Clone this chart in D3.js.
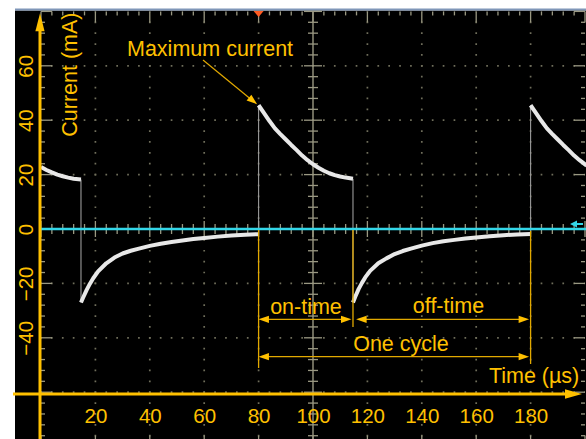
<!DOCTYPE html>
<html>
<head>
<meta charset="utf-8">
<script src="https://cdn.jsdelivr.net/npm/d3@7"></script>
<style>
html, body { margin: 0; padding: 0; background: #fff; }
svg { display: block; font-family: "Liberation Sans", Arial, sans-serif; }
</style>
</head>
<body>
<div id="scope"></div>
<script>
// current trace, split at the switching edges (time in µs, current in mA)
var onTime1 = [0, 2, 4, 6, 8, 10, 12, 14.7];
var onCurrent1 = [22.8, 21.7, 20.8, 20.0, 19.4, 18.9, 18.5, 18.2];

var offTime1 = [14.7, 15.5, 16.8, 18, 19.2, 21, 24, 27, 30, 33, 36, 40, 44, 48, 52, 56, 60, 65, 70, 75, 80];
var offCurrent1 = [-27, -25.2, -22.4, -20.1, -18.1, -15.6, -12.6, -10.5, -9.0, -8.0, -7.2, -6.2, -5.4, -4.8, -4.2, -3.7, -3.3, -2.8, -2.4, -2.1, -1.9];

var onTime2 = [80, 82, 84, 86, 88, 90, 92, 94, 96, 98, 100, 102, 104, 106, 108, 110, 112, 114.7];
var onCurrent2 = [45.5, 42.6, 39.7, 37.0, 34.9, 32.9, 30.9, 29.0, 27.0, 25.3, 23.8, 22.5, 21.4, 20.5, 19.8, 19.3, 18.9, 18.5];

var offTime2 = [114.7, 115.5, 116.8, 118, 119.2, 121, 124, 127, 130, 133, 136, 140, 144, 148, 152, 156, 160, 165, 170, 175, 180];
var offCurrent2 = [-27, -25.0, -22.0, -19.8, -17.8, -15.4, -12.6, -10.8, -9.2, -8.1, -7.2, -6.1, -5.2, -4.5, -4.0, -3.5, -3.1, -2.7, -2.3, -2.0, -1.8];

var onTime3 = [180, 182, 184, 186, 188, 190, 192, 194, 196, 198, 200.6];
var onCurrent3 = [45.5, 42.6, 39.7, 37.0, 34.9, 32.9, 30.9, 29.0, 27.0, 25.3, 23.3];

// second channel sits flat on zero
var ch2Time = [0, 200.6];
var ch2Current = [0, 0];

var timeTicks = [20, 40, 60, 80, 100, 120, 140, 160, 180];
var currentTicks = [60, 40, 20, 0, -20, -40];

// pulse start, pulse end, next pulse start
var cycleStart = 80, cycleSwitch = 114.7, cycleEnd = 180;
var peakCurrent = 45.5;

var width = 586, height = 439;
var orange = "#ffc000", gridColor = "#6f6e5b", axisGrey = "#9a9882";

var x = d3.scaleLinear().domain([0, 200]).range([41, 585]);
var y = d3.scaleLinear().domain([-80, 80]).range([446.6, 11.4]);

var svg = d3.select("#scope")
    .append("svg")
    .attr("width", width)
    .attr("height", height);

svg.append("rect")
    .attr("x", 0).attr("y", 0)
    .attr("width", width).attr("height", height)
    .attr("fill", "#fff");

// screen
svg.append("rect")
    .attr("x", 15).attr("y", 10.5)
    .attr("width", width - 15).attr("height", height - 10.5)
    .attr("fill", "#000");

svg.append("line")
    .attr("x1", 15).attr("x2", width)
    .attr("y1", 9.5).attr("y2", 9.5)
    .attr("stroke", "#7f96b8")
    .attr("stroke-width", 2);

//graticule
var grid = svg.append("g");
var divTime = d3.range(20, 200, 20).filter(function(t){ return t != 100; });
var divCurrent = d3.range(-60, 80, 20).filter(function(v){ return v != 0; });

grid.selectAll(".vdot")
    .data(divTime)
    .join("line")
    .attr("x1", function(d){ return x(d); })
    .attr("x2", function(d){ return x(d); })
    .attr("y1", y(80)).attr("y2", y(-80))
    .attr("stroke", gridColor)
    .attr("stroke-width", 1.7)
    .attr("stroke-dasharray", "1.7 9.18")
    .attr("stroke-dashoffset", 0.85);

grid.selectAll(".hdot")
    .data(divCurrent)
    .join("line")
    .attr("y1", function(d){ return y(d); })
    .attr("y2", function(d){ return y(d); })
    .attr("x1", x(0)).attr("x2", x(200))
    .attr("stroke", gridColor)
    .attr("stroke-width", 1.7)
    .attr("stroke-dasharray", "1.7 9.18")
    .attr("stroke-dashoffset", 0.85);

var minorTime = d3.range(0, 200.01, 4);
var minorCurrent = d3.range(-80, 80.01, 4);
function isMajorT(t){ return Math.abs(t % 20) < 0.01; }

// edge ticks
grid.selectAll(".ttop")
    .data(minorTime)
    .join("line")
    .attr("x1", function(d){ return x(d); })
    .attr("x2", function(d){ return x(d); })
    .attr("y1", y(80))
    .attr("y2", function(d){ return y(80) + (isMajorT(d) ? 11 : 4); })
    .attr("stroke", axisGrey).attr("stroke-width", 1.3);

grid.selectAll(".tbot")
    .data(minorTime)
    .join("line")
    .attr("x1", function(d){ return x(d); })
    .attr("x2", function(d){ return x(d); })
    .attr("y1", y(-80))
    .attr("y2", function(d){ return y(-80) - (isMajorT(d) ? 11 : 4); })
    .attr("stroke", axisGrey).attr("stroke-width", 1.3);

grid.selectAll(".tleft")
    .data(minorCurrent)
    .join("line")
    .attr("y1", function(d){ return y(d); })
    .attr("y2", function(d){ return y(d); })
    .attr("x1", x(0))
    .attr("x2", function(d){ return x(0) + (isMajorT(d) ? 11 : 4); })
    .attr("stroke", axisGrey).attr("stroke-width", 1.3);

grid.selectAll(".tright")
    .data(minorCurrent)
    .join("line")
    .attr("y1", function(d){ return y(d); })
    .attr("y2", function(d){ return y(d); })
    .attr("x1", x(200))
    .attr("x2", function(d){ return x(200) - (isMajorT(d) ? 11 : 4); })
    .attr("stroke", axisGrey).attr("stroke-width", 1.3);

// centre cross
grid.append("line")
    .attr("x1", x(100)).attr("x2", x(100))
    .attr("y1", y(80)).attr("y2", y(-80))
    .attr("stroke", axisGrey).attr("stroke-width", 1.4);

grid.append("line")
    .attr("x1", x(0)).attr("x2", x(200))
    .attr("y1", y(0)).attr("y2", y(0))
    .attr("stroke", axisGrey).attr("stroke-width", 1.4);

grid.selectAll(".cv")
    .data(minorCurrent)
    .join("line")
    .attr("y1", function(d){ return y(d); })
    .attr("y2", function(d){ return y(d); })
    .attr("x1", function(d){ return x(100) - (isMajorT(d) ? 9 : 5); })
    .attr("x2", function(d){ return x(100) + (isMajorT(d) ? 9 : 5); })
    .attr("stroke", axisGrey).attr("stroke-width", 1.3);

grid.selectAll(".ch")
    .data(minorTime)
    .join("line")
    .attr("x1", function(d){ return x(d); })
    .attr("x2", function(d){ return x(d); })
    .attr("y1", function(d){ return y(0) - (isMajorT(d) ? 8 : 5); })
    .attr("y2", function(d){ return y(0) + (isMajorT(d) ? 8 : 5); })
    .attr("stroke", axisGrey).attr("stroke-width", 1.3);

//traces
var segments = [
    {t: onTime1, i: onCurrent1},
    {t: offTime1, i: offCurrent1},
    {t: onTime2, i: onCurrent2},
    {t: offTime2, i: offCurrent2},
    {t: onTime3, i: onCurrent3}
];

var line = d3.line()
    .x(function(d){ return x(d[0]); })
    .y(function(d){ return y(d[1]); });

// switching edges, thin
var edges = [];
for (var k = 0; k < segments.length - 1; k++) {
    var a = segments[k], b = segments[k + 1];
    edges.push([[a.t[a.t.length - 1], a.i[a.i.length - 1]], [b.t[0], b.i[0]]]);
}

svg.append("g")
    .selectAll("path")
    .data(edges)
    .join("path")
    .attr("d", line)
    .attr("fill", "none")
    .attr("stroke", "#9c9c9c")
    .attr("stroke-width", 1.1);

svg.append("g")
    .selectAll("path")
    .data(segments)
    .join("path")
    .attr("d", function(s){ return line(d3.zip(s.t, s.i)); })
    .attr("fill", "none")
    .attr("stroke", "#e8e8e8")
    .attr("stroke-width", 4)
    .attr("stroke-linejoin", "round");

svg.append("path")
    .attr("d", line(d3.zip(ch2Time, ch2Current)))
    .attr("fill", "none")
    .attr("stroke", "#33d6e8")
    .attr("stroke-width", 2.6);

// channel marker on the right
svg.append("path")
    .attr("d", "M570,224 L577,220.5 L577,223 L583,223 L583,225 L577,225 L577,227.5 Z")
    .attr("fill", "#33d6e8");

// trigger marker
svg.append("path")
    .attr("d", "M" + (x(cycleStart) - 5) + "," + 11 + " L" + (x(cycleStart) + 5) + "," + 11 + " L" + x(cycleStart) + "," + 17 + " Z")
    .attr("fill", "#ff5b22");

//annotations
function arrowHead(g, tx, ty, dx, dy, len, half) {
    var n = Math.sqrt(dx * dx + dy * dy);
    dx /= n; dy /= n;
    var bx = tx - dx * len, by = ty - dy * len;
    g.append("path")
        .attr("d", "M" + tx + "," + ty +
            " L" + (bx - dy * half) + "," + (by + dx * half) +
            " L" + (bx + dy * half) + "," + (by - dx * half) + " Z")
        .attr("fill", orange);
}

var ann = svg.append("g");
var annStroke = "#e2a900";

function vline(t, y1, y2) {
    ann.append("line")
        .attr("x1", x(t)).attr("x2", x(t))
        .attr("y1", y1).attr("y2", y2)
        .attr("stroke", annStroke).attr("stroke-width", 1.3);
}
vline(cycleStart, y(0) + 1, 368);
vline(cycleSwitch, y(0) + 1, 327);
vline(cycleEnd, y(0) + 2, 364);

function dimArrow(t1, t2, yy) {
    var xa = x(t1) + 1.5, xb = x(t2) - 1.5;
    ann.append("line")
        .attr("x1", xa + 6).attr("x2", xb - 6)
        .attr("y1", yy).attr("y2", yy)
        .attr("stroke", annStroke).attr("stroke-width", 1.3);
    arrowHead(ann, xa, yy, -1, 0, 10.5, 3.6);
    arrowHead(ann, xb, yy, 1, 0, 10.5, 3.6);
}
dimArrow(cycleStart - 0.6, cycleSwitch, 319.3);
dimArrow(cycleSwitch + 0.6, cycleEnd, 319.3);
dimArrow(cycleStart - 0.6, cycleEnd, 356.7);

// pointer to the peak
var tipX = x(cycleStart) - 1.5, tipY = y(peakCurrent) - 1;
ann.append("line")
    .attr("x1", 203).attr("y1", 60)
    .attr("x2", tipX - 5).attr("y2", tipY - 4)
    .attr("stroke", annStroke).attr("stroke-width", 1.2);
arrowHead(ann, tipX, tipY, tipX - 203, tipY - 60, 10.5, 3.8);

var labelFont = 21.5;
function label(txt, px, py, anchor) {
    return ann.append("text")
        .attr("x", px).attr("y", py)
        .attr("text-anchor", anchor)
        .attr("fill", orange)
        .attr("font-size", labelFont)
        .text(txt);
}
label("Maximum current", 127, 56, "start");
label("on-time", 306, 314.3, "middle");
label("off-time", 448.5, 313.3, "middle");
label("One cycle", 401, 351, "middle");
label("Time (µs)", 579.3, 383.3, "end");

ann.append("text")
    .attr("transform", "translate(77.3,136.7) rotate(-90)")
    .attr("text-anchor", "start")
    .attr("fill", orange)
    .attr("font-size", labelFont)
    .text("Current (mA)");

//axes
var timeAxisY = 394;

svg.append("line")
    .attr("x1", 13).attr("x2", 567)
    .attr("y1", timeAxisY).attr("y2", timeAxisY)
    .attr("stroke", orange).attr("stroke-width", 3);
arrowHead(svg, 582, timeAxisY, 1, 0, 17, 4.8);

svg.append("line")
    .attr("x1", 40).attr("x2", 40)
    .attr("y1", 29).attr("y2", height)
    .attr("stroke", orange).attr("stroke-width", 3);
arrowHead(svg, 40, 13.3, 0, -1, 18, 4.6);

var xAxis = svg.append("g")
    .attr("transform", "translate(0," + timeAxisY + ")")
    .call(d3.axisBottom(x).tickValues(timeTicks).tickSize(0));
xAxis.select(".domain").remove();
xAxis.selectAll("text")
    .attr("y", 29.3)
    .attr("dy", null)
    .attr("fill", orange)
    .attr("font-size", 20.5)
    .attr("font-family", "Liberation Sans, Arial, sans-serif");

var yAxis = svg.append("g")
    .call(d3.axisLeft(y).tickValues(currentTicks).tickSize(0));
yAxis.select(".domain").remove();
yAxis.selectAll("text")
    .attr("x", null)
    .attr("dy", null)
    .attr("text-anchor", "middle")
    .attr("transform", "translate(32.7,0) rotate(-90)")
    .attr("fill", orange)
    .attr("font-size", 20.5)
    .attr("font-family", "Liberation Sans, Arial, sans-serif");
</script>
</body>
</html>
